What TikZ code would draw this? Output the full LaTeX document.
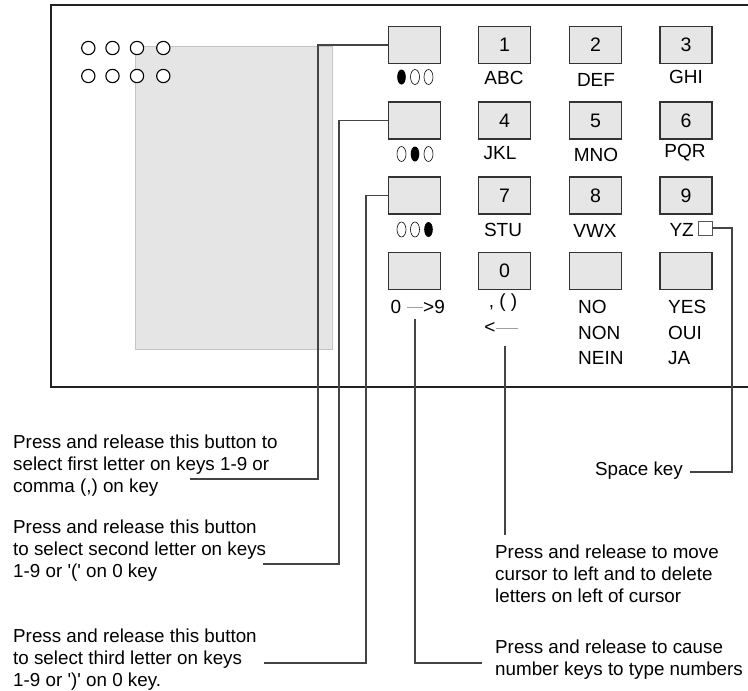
\documentclass[tikz,border=0pt]{standalone}
\usepackage{fontspec}
\setmainfont{Liberation Sans}[Ligatures=TeXOff]
\definecolor{panel}{HTML}{222222}
\definecolor{keyline}{HTML}{333333}
\definecolor{keyfill}{HTML}{E6E6E6}
\definecolor{leadc}{HTML}{444444}
\definecolor{dispfill}{HTML}{E5E5E5}
\definecolor{displine}{HTML}{C4C4C4}
\definecolor{thinc}{HTML}{A0A0A0}
\definecolor{sqc}{HTML}{555555}
\begin{document}
\begin{tikzpicture}[x=1pt,y=-1pt,
  lbl/.style={font=\fontsize{19}{22}\selectfont, inner sep=0pt},
  keybox/.style={draw=keyline, line width=1.4pt, fill=keyfill, minimum width=52pt, minimum height=37pt, inner sep=0pt, font=\fontsize{19.5}{22}\selectfont},
  leader/.style={draw=leadc, line width=1.3pt},
  thinline/.style={draw=thinc, line width=0.8pt},
  dot/.style={draw=black, line width=1.1pt, fill=white, circle, minimum size=13.3pt, inner sep=0pt},
  desc/.style={font=\fontsize{18.8}{22}\selectfont, align=left, inner sep=0pt, anchor=north west}]
\useasboundingbox (0,0) rectangle (748,691);
\fill[white] (0,0) rectangle (748,691);
\clip (0,0) rectangle (748,691);
% panel
\draw[line width=2.8pt, draw=panel] (51,5) rectangle (770,387);
% display
\draw[fill=dispfill, draw=displine, line width=1pt] (135,46.7) rectangle (332,349);
% indicator circles
\foreach \i/\x in {1/88.3,2/112.5,3/137,4/163.3}{
  \node[dot] (oa\i) at (\x,48) {};
  \node[dot] (ob\i) at (\x,76) {};
}
% keys
\node[keybox] (ka) at (414.5,45) {};
\node[keybox] (kb) at (414.5,120.5) {};
\node[keybox] (kc) at (414.5,195.5) {};
\node[keybox] (kd) at (414.5,271) {};
\node[keybox] (k1) at (504.5,45) {1};
\node[keybox] (k2) at (595.5,45) {2};
\node[keybox] (k3) at (686,45) {3};
\node[keybox] (k4) at (504.5,120.5) {4};
\node[keybox] (k5) at (595.5,120.5) {5};
\node[keybox] (k6) at (686,120.5) {6};
\node[keybox] (k7) at (504.5,195.5) {7};
\node[keybox] (k8) at (595.5,195.5) {8};
\node[keybox] (k9) at (686,195.5) {9};
\node[keybox] (k0) at (504.5,271) {0};
\node[keybox] (kno) at (595.5,271) {};
\node[keybox] (kyes) at (686,271) {};
% letter labels
\node[lbl] (lABC) at (504,78) {ABC};
\node[lbl] (lDEF) at (596,80) {DEF};
\node[lbl] (lGHI) at (686,77) {GHI};
\node[lbl] (lJKL) at (500,153) {JKL};
\node[lbl] (lMNO) at (596,155) {MNO};
\node[lbl] (lPQR) at (685,153) {PQR};
\node[lbl] (lSTU) at (503,230) {STU};
\node[lbl] (lVWX) at (595,231) {VWX};
\node[lbl, anchor=east] (lYZ) at (694,230) {YZ};
\node[draw=sqc, fill=white, line width=0.9pt, minimum size=14pt, inner sep=0pt] (sq) at (705,228) {};
% ellipse symbols
\fill (401.5,77) ellipse [x radius=4.3pt, y radius=7.5pt];
\draw[line width=0.6pt] (415,77) ellipse [x radius=4.5pt, y radius=7.5pt];
\draw[line width=0.6pt] (428.5,77) ellipse [x radius=4.5pt, y radius=7.5pt];
\draw[line width=0.6pt] (401.5,154) ellipse [x radius=4.5pt, y radius=7.5pt];
\fill (415,154) ellipse [x radius=4.3pt, y radius=7.5pt];
\draw[line width=0.6pt] (428.5,154) ellipse [x radius=4.5pt, y radius=7.5pt];
\draw[line width=0.6pt] (401.5,229.5) ellipse [x radius=4.5pt, y radius=7.5pt];
\draw[line width=0.6pt] (415,229.5) ellipse [x radius=4.5pt, y radius=7.5pt];
\fill (428.5,229.5) ellipse [x radius=4.3pt, y radius=7.5pt];
% bottom row labels
\node[lbl] (z0) at (396,307) {0};
\node[lbl, anchor=west] (z9) at (423,307) {>9};
\draw[thinline] ([xshift=6pt]z0.east) -- (z9.west);
\node[lbl] (cp) at (503,303) {, ( )};
\node[lbl] (lt) at (490,328) {<};
\coordinate (ltend) at (518,328);
\draw[thinline] (lt.east) -- (ltend);
\node[lbl, anchor=west] (no1) at (578,307) {NO};
\node[lbl, anchor=west] (no2) at (578,333) {NON};
\node[lbl, anchor=west] (no3) at (578,358) {NEIN};
\node[lbl, anchor=west] (ye1) at (668,307) {YES};
\node[lbl, anchor=west] (ye2) at (668,333) {OUI};
\node[lbl, anchor=west] (ye3) at (668,358) {JA};
% description texts
\node[desc] (t1) at (13,434.5) {Press and release this button to\\select first letter on keys 1-9 or\\comma (,) on key};
\node[desc] (t2) at (13,519.5) {Press and release this button\\to select second letter on keys\\1-9 or '(' on 0 key};
\node[desc] (t3) at (13,628.5) {Press and release this button\\to select third letter on keys\\1-9 or ')' on 0 key.};
\node[desc, anchor=base east] (tsp) at (683,475) {Space key};
\node[desc] (tmv) at (495,544.5) {Press and release to move\\cursor to left and to delete\\letters on left of cursor};
\node[desc] (tnum) at (495,639.5) {Press and release to cause\\number keys to type numbers};
% leader ends
\coordinate (e1) at (190,479);
\coordinate (e2) at (263,564);
\coordinate (e3) at (264,663);
\coordinate (s4) at (415,319);
\coordinate (e4) at (482,663);
\coordinate (s5) at (505,346);
\coordinate (e5) at (505,535);
\coordinate (e6) at (690,472);
% leaders
\draw[leader] (ka.west) -- (318,45) -- (318,479) -- (e1);
\draw[leader] (kb.west) -- (339,120.5) -- (339,564) -- (e2);
\draw[leader] (kc.west) -- (366,195.5) -- (366,663) -- (e3);
\draw[leader] (s4) -- (415,663) -- (e4);
\draw[leader] (s5) -- (e5);
\draw[leader] (sq.east) -- (732,228) -- (732,472) -- (e6);
\end{tikzpicture}
\end{document}
